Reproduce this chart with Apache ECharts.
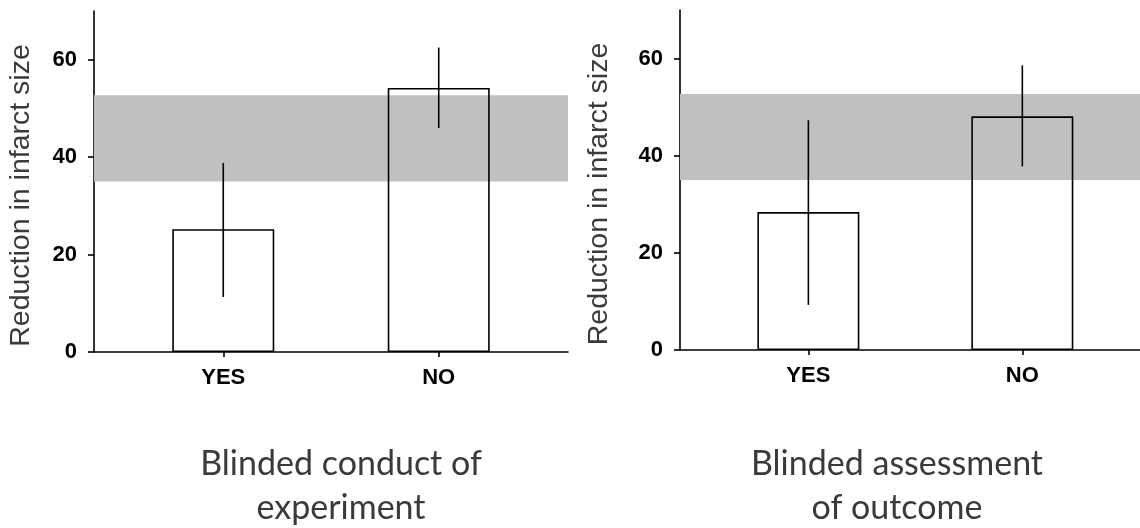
<!DOCTYPE html>
<html>
<head>
<meta charset="utf-8">
<script src="https://cdn.jsdelivr.net/npm/echarts@6/dist/echarts.min.js"></script>
<style>
  html, body { margin: 0; padding: 0; background: #fff; }
  #chart { width: 1140px; height: 528px; }
</style>
</head>
<body>
<div id="chart"></div>
<script>
// categories and positions on the x value axis
const categories = ["YES", "NO"];
const xPositions = [1, 2];
const yTicks = [0, 20, 40, 60];

// blinded conduct of experiment
const conductMeans = [25.2, 54.2];
const conductLow = [11.3, 46.0];
const conductHigh = [38.8, 62.5];

// blinded assessment of outcome
const assessMeans = [28.4, 48.1];
const assessLow = [9.3, 37.8];
const assessHigh = [47.3, 58.6];

// shaded reference band
const bandRange = [35, 52.7];

const chart = echarts.init(document.getElementById("chart"));

function xAxisFor(gridIndex, max) {
  return {
    type: "value",
    gridIndex: gridIndex,
    min: 0.4,
    max: max,
    axisLine: { show: true, lineStyle: { color: "#000", width: 1.6 } },
    axisTick: { show: true, customValues: xPositions, length: 5, lineStyle: { color: "#000", width: 1.6 } },
    axisLabel: {
      customValues: xPositions,
      formatter: (v) => categories[Math.round(v) - 1],
      fontFamily: "Liberation Sans",
      fontWeight: "bold",
      fontSize: 22,
      color: "#000",
      margin: 15,
    },
    splitLine: { show: false },
  };
}

function yAxisFor(gridIndex, gap) {
  return {
    type: "value",
    gridIndex: gridIndex,
    min: 0,
    max: 70,
    name: "Reduction in infarct size",
    nameLocation: "middle",
    nameGap: gap,
    nameTextStyle: {
      fontFamily: "Liberation Sans",
      fontSize: 28.5,
      color: "#3a3a3a",
      padding: [0, 28, 0, 0],
    },
    axisLine: { show: true, lineStyle: { color: "#000", width: 1.6 } },
    axisTick: { show: true, customValues: yTicks, length: 6, lineStyle: { color: "#000", width: 1.6 } },
    axisLabel: {
      customValues: yTicks,
      fontFamily: "Liberation Sans",
      fontWeight: "bold",
      fontSize: 22,
      color: "#000",
      margin: 17,
    },
    splitLine: { show: false },
  };
}

function barSeries(idx, means) {
  return {
    type: "bar",
    xAxisIndex: idx,
    yAxisIndex: idx,
    z: 3,
    barWidth: 102,
    data: xPositions.map((x, i) => [x, means[i]]),
    itemStyle: { color: "rgba(0,0,0,0)", borderColor: "#000", borderWidth: 1.6 },
    silent: true,
  };
}

function errorSeries(idx, low, high) {
  return {
    type: "custom",
    xAxisIndex: idx,
    yAxisIndex: idx,
    z: 4,
    silent: true,
    data: xPositions.map((x, i) => [x, low[i], high[i]]),
    renderItem: function (params, api) {
      const p1 = api.coord([api.value(0), api.value(1)]);
      const p2 = api.coord([api.value(0), api.value(2)]);
      return {
        type: "line",
        shape: { x1: p1[0], y1: p1[1], x2: p2[0], y2: p2[1] },
        style: { stroke: "#000", lineWidth: 1.6 },
      };
    },
  };
}

function bandSeries(idx) {
  return {
    type: "line",
    xAxisIndex: idx,
    yAxisIndex: idx,
    z: 1,
    data: [],
    silent: true,
    markArea: {
      silent: true,
      itemStyle: { color: "#c0c0c0" },
      data: [[{ yAxis: bandRange[0] }, { yAxis: bandRange[1] }]],
    },
  };
}

chart.setOption({
  animation: false,
  backgroundColor: "#fff",
  grid: [
    { left: 94, top: 11, width: 474, height: 341 },
    { left: 680, top: 10, right: 0, height: 340 },
  ],
  xAxis: [xAxisFor(0, 2.6), xAxisFor(1, 2.55)],
  yAxis: [yAxisFor(0, 58), yAxisFor(1, 66)],
  series: [
    bandSeries(0),
    barSeries(0, conductMeans),
    errorSeries(0, conductLow, conductHigh),
    bandSeries(1),
    barSeries(1, assessMeans),
    errorSeries(1, assessLow, assessHigh),
  ],
  graphic: [
    {
      type: "text",
      x: 341,
      y: 442,
      style: {
        text: "Blinded conduct of\nexperiment",
        font: "34px Lato",
        fill: "#3a3a3a",
        textAlign: "center",
        lineHeight: 44,
      },
    },
    {
      type: "text",
      x: 897,
      y: 442,
      style: {
        text: "Blinded assessment\nof outcome",
        font: "34px Lato",
        fill: "#3a3a3a",
        textAlign: "center",
        lineHeight: 44,
      },
    },
  ],
});
</script>
</body>
</html>
